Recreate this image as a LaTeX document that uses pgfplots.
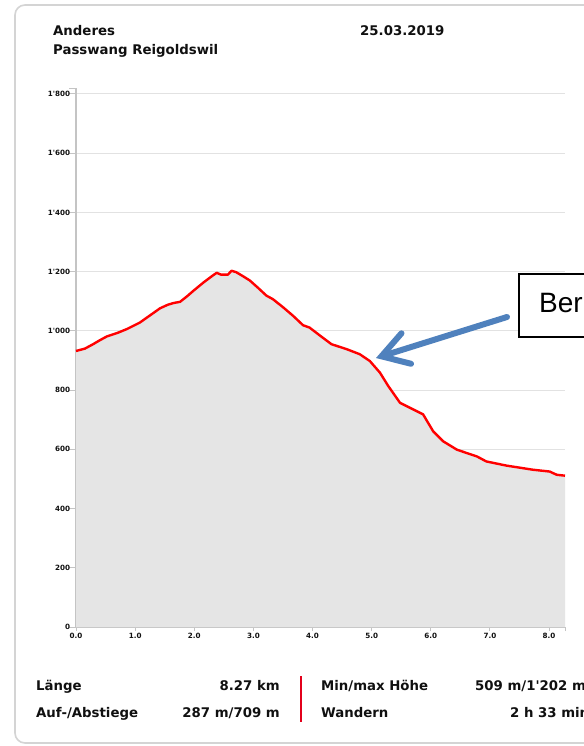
\documentclass[border=0pt]{standalone}
\usepackage{fontspec}
\newfontfamily\dvs{DejaVu Sans}
\newfontfamily\arial{Liberation Sans}
\usepackage{pgfplots}
\pgfplotsset{compat=1.18}
\usepackage{pgfplotstable}
\usetikzlibrary{arrows.meta}

\definecolor{axisgray}{HTML}{C4C4C4}
\definecolor{gridgray}{HTML}{E2E2E2}
\definecolor{fillgray}{HTML}{E5E5E5}
\definecolor{framegray}{HTML}{D4D4D4}
\definecolor{profred}{HTML}{FF0000}
\definecolor{divred}{HTML}{E3001B}
\definecolor{arrowblue}{HTML}{4F81BD}
\definecolor{txt}{HTML}{101010}

% elevation profile, km vs m
\pgfplotstableread{
km    h
0.00  932
0.15  940
0.29  955
0.40  968
0.52  981
0.70  993
0.86  1006
1.08  1028
1.25  1052
1.42  1076
1.55  1088
1.65  1094
1.76  1098
1.88  1117
1.99  1136
2.16  1164
2.30  1185
2.38  1196
2.45  1190
2.57  1190
2.63  1203
2.71  1198
2.82  1185
2.94  1170
3.08  1145
3.22  1119
3.33  1107
3.50  1080
3.67  1051
3.84  1019
3.95  1011
4.12  985
4.32  955
4.58  938
4.80  921
4.97  898
5.14  859
5.28  814
5.48  757
5.70  735
5.87  718
6.04  661
6.21  627
6.44  599
6.60  588
6.78  576
6.94  559
7.28  545
7.73  531
8.01  525
8.13  514
8.27  511
}\profile

\newcommand{\hdr}{\dvs\bfseries\fontsize{13.3bp}{15bp}\selectfont}

\begin{document}
\begin{tikzpicture}
\useasboundingbox (0,0) rectangle (584bp,-746bp);
\clip (0,0) rectangle (584bp,-746bp);
\fill[white] (0,0) rectangle (584bp,-746bp);

\begin{scope}[x=1bp,y=-1bp]
  \draw[framegray, line width=1.6bp, rounded corners=10bp] (15,5) rectangle (680,743);
  \node[anchor=base west, inner sep=0, text=txt, font=\hdr] at (53,35.5) {Anderes};
  \node[anchor=base west, inner sep=0, text=txt, font=\hdr] at (53,54.5) {Passwang Reigoldswil};
  \node[anchor=base west, inner sep=0, text=txt, font=\hdr] at (360,35.5) {25.03.2019};

  \node[anchor=base west, inner sep=0, text=txt, font=\hdr] at (36,690.5) {Länge};
  \node[anchor=base west, inner sep=0, text=txt, font=\hdr] at (36,717.5) {Auf-/Abstiege};
  \node[anchor=base east, inner sep=0, text=txt, font=\hdr] at (280,690.5) {8.27 km};
  \node[anchor=base east, inner sep=0, text=txt, font=\hdr] at (280,717.5) {287 m/709 m};
  \draw[divred, line width=2bp] (301,676) -- (301,722);
  \node[anchor=base west, inner sep=0, text=txt, font=\hdr] at (321,690.5) {Min/max Höhe};
  \node[anchor=base west, inner sep=0, text=txt, font=\hdr] at (321,717.5) {Wandern};
  \node[anchor=base west, inner sep=0, text=txt, font=\hdr] at (475,690.5) {509 m/1'202 m};
  \node[anchor=base west, inner sep=0, text=txt, font=\hdr] at (510,717.5) {2 h 33 min};
\end{scope}

\begin{axis}[
  at={(76bp,-627bp)}, anchor=south west,
  scale only axis,
  width=489bp, height=539bp,
  xmin=0, xmax=8.27,
  ymin=0, ymax=1820,
  axis lines*=left,
  axis line style={axisgray, line width=1.3bp},
  tick align=outside,
  xtick={0,1,2,3,4,5,6,7,8},
  xticklabels={0.0,1.0,2.0,3.0,4.0,5.0,6.0,7.0,8.0},
  ytick={0,200,400,600,800,1000,1200,1400,1600,1800},
  yticklabels={0,200,400,600,800,1'000,1'200,1'400,1'600,1'800},
  extra x ticks={8.27}, extra x tick labels={},
  extra y ticks={1820}, extra y tick labels={},
  extra tick style={grid=none},
  xtick style={axisgray, line width=1bp, /pgfplots/major tick length=4bp},
  ytick style={axisgray, line width=1bp, /pgfplots/major tick length=7bp},
  ymajorgrids,
  grid style={gridgray, line width=1bp},
  ticklabel style={font=\dvs\bfseries\fontsize{7.2bp}{8bp}\selectfont, text=txt, inner sep=1.5bp},
  clip=false,
]
  \addplot[fill=fillgray, draw=none] table[x=km, y=h] {\profile} \closedcycle;
  \addplot[profred, line width=2.4bp, line join=round] table[x=km, y=h] {\profile};
\end{axis}

\begin{scope}[x=1bp,y=-1bp]
  \draw[black, line width=1.5bp, fill=white] (519,274) rectangle (700,337);
  \node[anchor=base west, inner sep=0, font=\arial\fontsize{28bp}{32bp}\selectfont] at (539,312) {Ber};
  \draw[arrowblue, line width=6bp, line cap=round,
        -{Straight Barb[length=26bp, width=32bp, line cap=round]}] (507,317) -- (376,358);
\end{scope}
\end{tikzpicture}
\end{document}
